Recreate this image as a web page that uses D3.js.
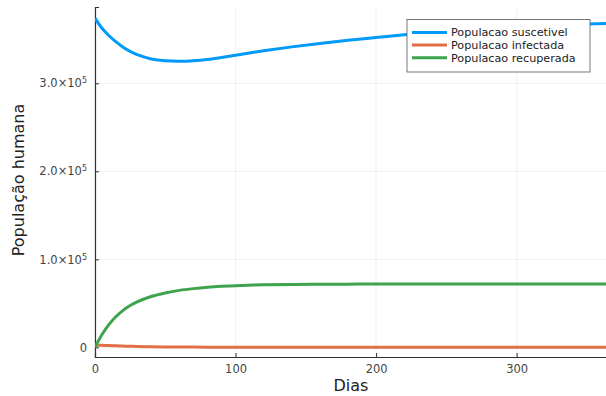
<!DOCTYPE html>
<html><head><meta charset="utf-8">
<script src="https://cdn.jsdelivr.net/npm/d3@7"></script>
<style>body{margin:0;background:#fff}svg{display:block}text{font-family:"DejaVu Sans",sans-serif}</style>
</head><body>
<svg id="c" width="606" height="396"></svg>
<script>
const days = [0,5,10,15,20,25,30,40,50,60,70,80,90,100,120,140,160,180,200,220,240,260,280,300,320,340,365];
const suscetivel = [374000,362500,354000,347000,341000,336300,332500,327700,325500,325000,325600,327100,329400,331900,336900,341400,345300,348800,352000,355200,358000,360500,362600,364300,365700,366800,368000];
const infectada = [2600,2300,2000,1700,1400,1150,950,650,450,320,230,170,130,100,70,50,40,30,25,20,18,16,14,12,11,10,10];
const recuperada = [0,14500,26000,35000,42000,47500,51700,57800,61800,64700,66700,68200,69300,70100,71000,71500,71700,71800,71900,71900,71900,71900,71900,71900,71900,71900,71900];
const seriesNames = ["Populacao suscetivel","Populacao infectada","Populacao recuperada"];
const seriesColors = ["#009AFA","#E26F46","#3DA44D"];
const xTicks = [0,100,200,300];
const yTicks = [0,100000,200000,300000];
const yTickLabels = [["0",""],["1.0×10","5"],["2.0×10","5"],["3.0×10","5"]];
const xLabel = "Dias", yLabel = "População humana";

const svg = d3.select("#c");
const L = 95, R = 608, T = 7, B = 357;
const x = d3.scaleLinear().domain([0,365]).range([L,R]);
const y = d3.scaleLinear().domain([-11000,386700]).range([B,T]);

// grid
const g = svg.append("g");
g.selectAll(".vg").data(xTicks).enter().append("line")
 .attr("x1",d=>x(d)).attr("x2",d=>x(d)).attr("y1",T).attr("y2",B)
 .attr("stroke","#000").attr("stroke-opacity",0.1).attr("stroke-width",0.6);
g.selectAll(".hg").data(yTicks).enter().append("line")
 .attr("x1",L).attr("x2",R).attr("y1",d=>y(d)).attr("y2",d=>y(d))
 .attr("stroke","#000").attr("stroke-opacity",0.1).attr("stroke-width",0.6);

// axes
const xa = d3.axisBottom(x).tickValues(xTicks).tickSize(-4).tickPadding(8).tickFormat(d3.format("d"));
const xg = svg.append("g").attr("transform",`translate(0,${B})`).call(xa);
const ya = d3.axisLeft(y).tickValues(yTicks).tickSize(-4).tickPadding(7).tickFormat("");
const yg = svg.append("g").attr("transform",`translate(${L},0)`).call(ya);
[xg,yg].forEach(a=>{
  a.select(".domain").attr("stroke","#333").attr("stroke-width",1.2);
  a.selectAll(".tick line").attr("stroke","#333").attr("stroke-width",1);
  a.selectAll("text").attr("fill","#444").style("font-size","11.5px").style("font-family","DejaVu Sans");
});
// y tick labels with superscript
yg.selectAll(".tick").each(function(d,i){
  const t = d3.select(this).append("text").attr("x",-8).attr("dy","0.32em")
    .attr("text-anchor","end").attr("fill","#444").style("font-size","11.5px");
  const lab = yTickLabels[i];
  if(lab[1]===""){ t.text(lab[0]); }
  else {
    t.append("tspan").text(lab[0]);
    t.append("tspan").attr("dy","-0.5em").style("font-size","8px").text(lab[1]);
  }
});

// lines
const data = [suscetivel, infectada, recuperada];
const line = d3.line().x((d,i)=>x(days[i])).y(d=>y(d)).curve(d3.curveCatmullRom.alpha(0.5));
svg.append("clipPath").attr("id","cp").append("rect").attr("x",L).attr("y",T).attr("width",R-L).attr("height",B-T);
svg.append("g").attr("clip-path","url(#cp)").selectAll("path.s").data(data).enter().append("path")
 .attr("d",line).attr("fill","none").attr("stroke",(d,i)=>seriesColors[i]).attr("stroke-width",3).attr("stroke-linejoin","round");

// labels
svg.append("text").attr("x",351).attr("y",391).attr("text-anchor","middle")
 .style("font-size","16px").attr("fill","#222").text(xLabel);
svg.append("text").attr("transform","translate(24,180) rotate(-90)").attr("text-anchor","middle")
 .style("font-size","16px").attr("fill","#222").text(yLabel);

// legend
const lg = svg.append("g");
lg.append("rect").attr("x",407).attr("y",19.5).attr("width",183).attr("height",52.5)
 .attr("fill","#fff").attr("stroke","#555").attr("stroke-width",0.8);
seriesNames.forEach((n,i)=>{
  const yy = 32.5 + i*12.6;
  lg.append("line").attr("x1",412).attr("x2",447).attr("y1",yy).attr("y2",yy)
    .attr("stroke",seriesColors[i]).attr("stroke-width",3);
  lg.append("text").attr("x",451).attr("y",yy).attr("dy","0.35em").style("font-size","11.2px").attr("fill","#222").text(n);
});
</script>
</body></html>
